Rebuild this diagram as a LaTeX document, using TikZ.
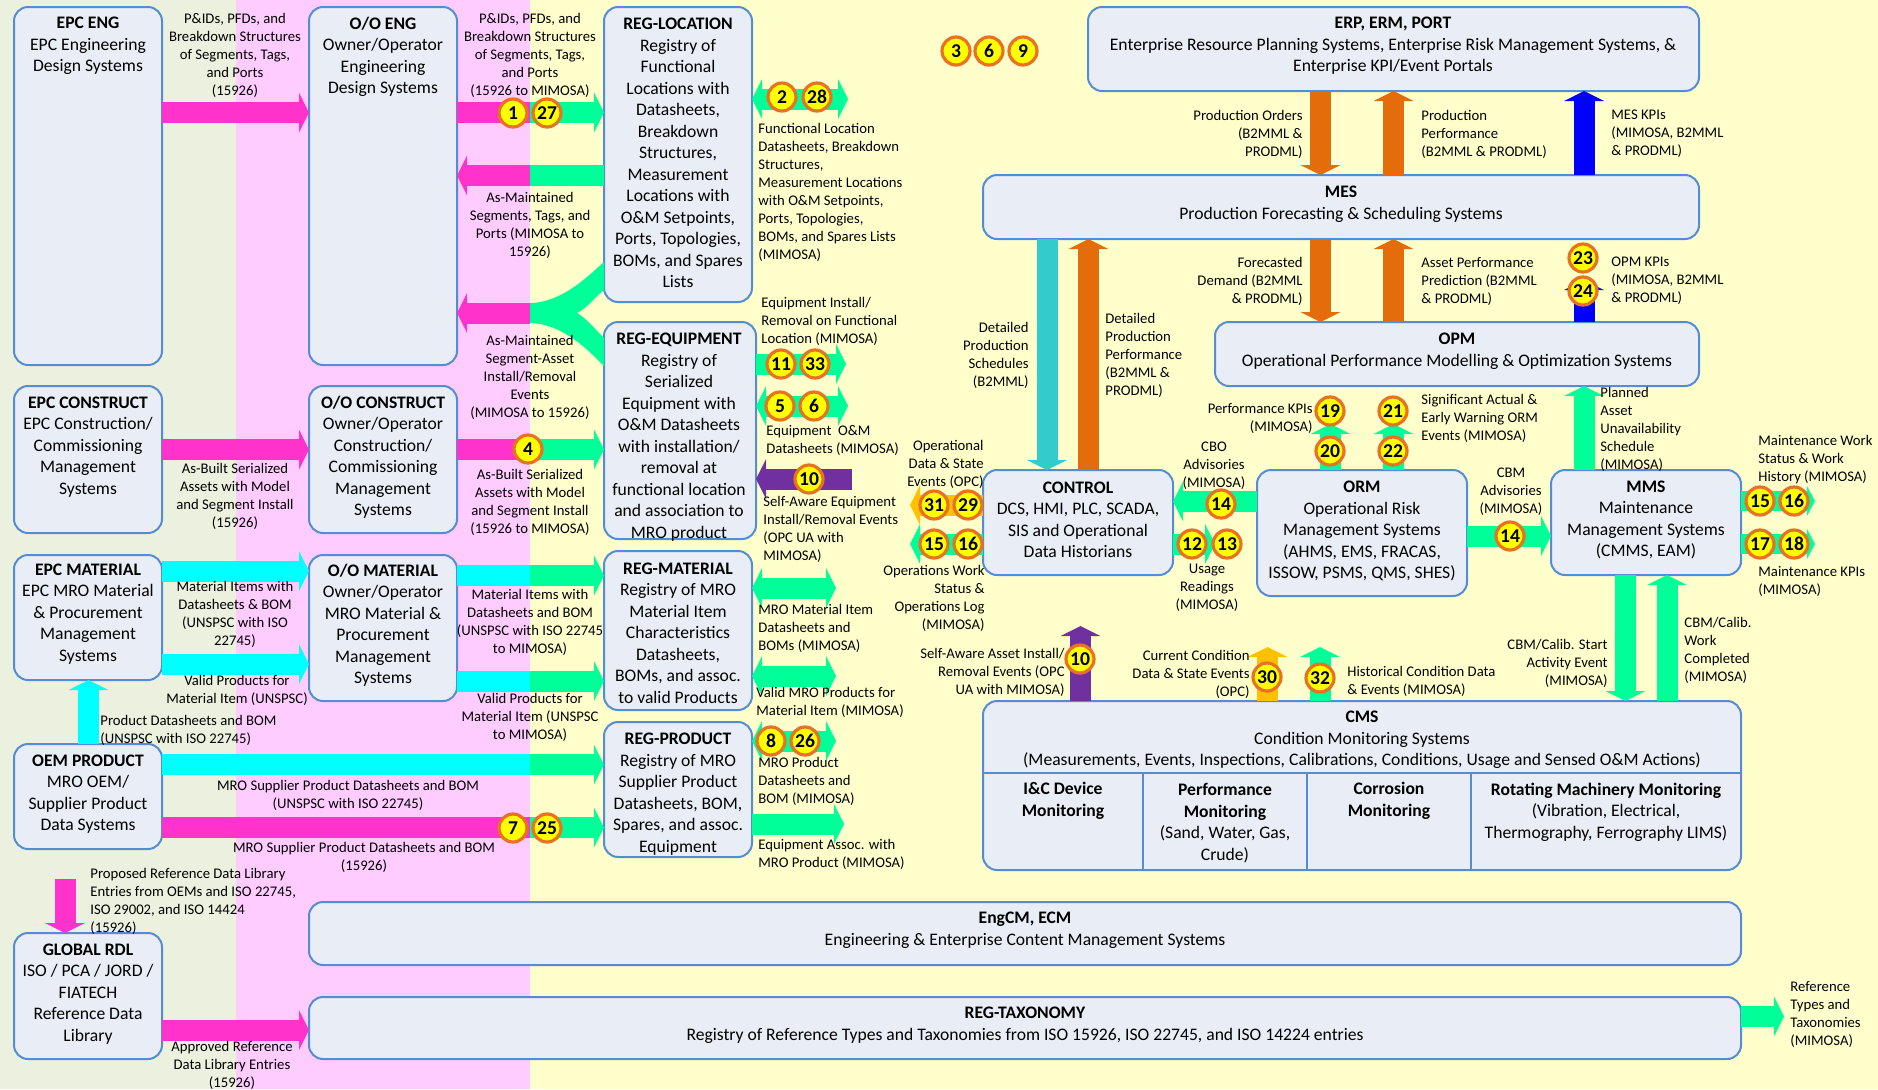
\documentclass[tikz,border=0pt]{standalone}
\usepackage{fontspec}
\setmainfont{Carlito}
\usetikzlibrary{arrows.meta,fit}

\definecolor{bggreen}{RGB}{235,241,222}
\definecolor{bgpink}{RGB}{255,204,255}
\definecolor{bgyellow}{RGB}{255,255,204}
\definecolor{boxfill}{RGB}{233,237,245}
\definecolor{boxline}{RGB}{84,141,212}
\definecolor{mag}{RGB}{255,51,204}
\definecolor{grn}{RGB}{0,255,153}
\definecolor{cyn}{RGB}{0,255,255}
\definecolor{org}{RGB}{228,108,10}
\definecolor{teal}{RGB}{51,204,204}
\definecolor{blu}{RGB}{0,0,255}
\definecolor{pur}{RGB}{112,48,160}
\definecolor{gold}{RGB}{255,192,0}
\definecolor{badgeline}{RGB}{232,113,35}
\definecolor{badgefill}{RGB}{255,255,0}

\newcommand\sysbox[5]{\node[box, fit={(#2,#3) (#4,#5)}] (#1) {};}

\begin{document}
\begin{tikzpicture}[x=0.5pt,y=-0.5pt,
  box/.style={draw=boxline, fill=boxfill, line width=1pt, rounded corners=7pt, inner sep=0pt, outer sep=0pt},
  btxt/.style={align=center, font=\fontsize{8.8pt}{10.75pt}\selectfont, inner sep=0pt},
  lbl/.style={align=center, font=\fontsize{7.35pt}{9pt}\selectfont, inner sep=0pt},
  lblL/.style={lbl, align=left, anchor=west},
  lblR/.style={lbl, align=right, anchor=east},
  badge/.style={circle, draw=badgeline, fill=badgefill, line width=1.6pt, minimum size=14pt, inner sep=0pt, font=\fontsize{9.8pt}{9.8pt}\selectfont\bfseries},
  fat/.style={line width=10.5pt},
  slim/.style={line width=10pt, >={Triangle[length=4pt,width=15pt,line width=0pt]}},
  >={Triangle[length=5pt,width=20pt,line width=0pt]},
]
\useasboundingbox (0,0) rectangle (1878,1089);

% background bands
\fill[bggreen] (0,0) rectangle (236,1089);
\fill[bgpink] (236,0) rectangle (530,1089);
\fill[bgyellow] (530,0) rectangle (1878,1089);

% systems
\sysbox{epceng}{14}{7}{162}{365}
\sysbox{ooeng}{309}{7}{457}{365}
\sysbox{regloc}{604}{7}{752}{302}
\sysbox{regequip}{604}{322}{756}{539}
\sysbox{epccon}{14}{386}{162}{533}
\sysbox{oocon}{309}{386}{457}{533}
\sysbox{epcmat}{14}{555}{162}{680}
\sysbox{oomat}{309}{555}{457}{701}
\sysbox{regmat}{604}{551}{752}{710}
\sysbox{oemprod}{14}{744}{162}{849}
\sysbox{regprod}{604}{722}{752}{857}
\sysbox{grdl}{14}{933}{162}{1059}
\sysbox{engcm}{309}{902}{1741}{965}
\sysbox{regtax}{309}{997}{1741}{1059}
\sysbox{erp}{1088}{7}{1699}{91}
\sysbox{mes}{983}{175}{1699}{239}
\sysbox{opm}{1215}{322}{1699}{386}
\sysbox{control}{983}{470}{1173}{575}
\sysbox{orm}{1257}{470}{1467}{596}
\sysbox{mms}{1551}{470}{1741}{575}
\sysbox{cms}{983}{701}{1741}{870}

% CMS table rules
\draw[boxline, line width=1pt] (cms.west |- 0,773) -- (cms.east |- 0,773);
\foreach \x in {1143,1307,1471}
  \draw[boxline, line width=1pt] (\x,773) -- (cms.south -| \x,0);

% system texts
\node[btxt] (t-epceng) at (88,46) {\textbf{EPC ENG}\\EPC Engineering\\Design Systems};
\node[btxt] (t-ooeng) at (383,57) {\textbf{O/O ENG}\\Owner/Operator\\Engineering\\Design Systems};
\node[btxt] (t-regloc) at (678,153) {\textbf{REG-LOCATION}\\Registry of\\Functional\\Locations with\\Datasheets,\\Breakdown\\Structures,\\Measurement\\Locations with\\O\&M Setpoints,\\Ports, Topologies,\\BOMs, and Spares\\Lists};
\node[btxt] (t-regequip) at (679,437) {\textbf{REG-EQUIPMENT}\\Registry of\\Serialized\\Equipment with\\O\&M Datasheets\\with installation/\\removal at\\functional location\\and association to\\MRO product};
\node[btxt] (t-epccon) at (88,447) {\textbf{EPC CONSTRUCT}\\EPC Construction/\\Commissioning\\Management\\Systems};
\node[btxt] (t-oocon) at (383,457) {\textbf{O/O CONSTRUCT}\\Owner/Operator\\Construction/\\Commissioning\\Management\\Systems};
\node[btxt] (t-epcmat) at (88,614) {\textbf{EPC MATERIAL}\\EPC MRO Material\\\& Procurement\\Management\\Systems};
\node[btxt] (t-oomat) at (383,625) {\textbf{O/O MATERIAL}\\Owner/Operator\\MRO Material \&\\Procurement\\Management\\Systems};
\node[btxt] (t-regmat) at (678,633) {\textbf{REG-MATERIAL}\\Registry of MRO\\Material Item\\Characteristics\\Datasheets,\\BOMs, and assoc.\\to valid Products};
\node[btxt] (t-oemprod) at (88,794) {\textbf{OEM PRODUCT}\\MRO OEM/\\Supplier Product\\Data Systems};
\node[btxt] (t-regprod) at (678,794) {\textbf{REG-PRODUCT}\\Registry of MRO\\Supplier Product\\Datasheets, BOM,\\Spares, and assoc.\\Equipment};
\node[btxt] (t-grdl) at (88,994) {\textbf{GLOBAL RDL}\\ISO / PCA / JORD /\\FIATECH\\Reference Data\\Library};
\node[btxt] (t-engcm) at (1025,930) {\textbf{EngCM, ECM}\\Engineering \& Enterprise Content Management Systems};
\node[btxt] (t-regtax) at (1025,1025) {\textbf{REG-TAXONOMY}\\Registry of Reference Types and Taxonomies from ISO 15926, ISO 22745, and ISO 14224 entries};
\node[btxt] (t-erp) at (1393,46) {\textbf{ERP, ERM, PORT}\\Enterprise Resource Planning Systems, Enterprise Risk Management Systems, \&\\Enterprise KPI/Event Portals};
\node[btxt] (t-mes) at (1341,204) {\textbf{MES}\\Production Forecasting \& Scheduling Systems};
\node[btxt] (t-opm) at (1457,351) {\textbf{OPM}\\Operational Performance Modelling \& Optimization Systems};
\node[btxt] (t-control) at (1078,520) {\textbf{CONTROL}\\DCS, HMI, PLC, SCADA,\\SIS and Operational\\Data Historians};
\node[btxt] (t-orm) at (1362,531) {\textbf{ORM}\\Operational Risk\\Management Systems\\(AHMS, EMS, FRACAS,\\ISSOW, PSMS, QMS, SHES)};
\node[btxt] (t-mms) at (1646,520) {\textbf{MMS}\\Maintenance\\Management Systems\\(CMMS, EAM)};
\node[btxt] (t-cms) at (1362,740) {\textbf{CMS}\\Condition Monitoring Systems\\(Measurements, Events, Inspections, Calibrations, Conditions, Usage and Sensed O\&M Actions)};
\node[btxt] (t-ic) at (1063,801) {\textbf{I\&C Device}\\\textbf{Monitoring}};
\node[btxt] (t-perf) at (1225,823) {\textbf{Performance}\\\textbf{Monitoring}\\(Sand, Water, Gas,\\Crude)};
\node[btxt] (t-corr) at (1389,801) {\textbf{Corrosion}\\\textbf{Monitoring}};
\node[btxt] (t-rot) at (1606,812) {\textbf{Rotating Machinery Monitoring}\\(Vibration, Electrical,\\Thermography, Ferrography LIMS)};

% ---------- left-hand flows ----------
\draw[fat,mag,->] (epceng.east |- 0,112.5) -- (ooeng.west |- 0,112.5);
\draw[fat,mag] (ooeng.east |- 0,112.5) -- (531,112.5);
\draw[fat,grn,->] (530,112.5) -- (regloc.west |- 0,112.5);
\draw[fat,grn] (regloc.west |- 0,175.5) -- (529,175.5);
\draw[fat,mag,->] (530,175.5) -- (ooeng.east |- 0,175.5);
% merging feed from both registries
\fill[grn] (529,303) .. controls (562,303) and (588,276) .. (604,262) -- (604,290)
  .. controls (594,298) and (586,309) .. (577,313)
  .. controls (586,318) and (594,328) .. (604,338) -- (604,366)
  .. controls (588,350) and (562,323) .. (529,323) -- cycle;
\draw[fat,mag,->] (530,313) -- (ooeng.east |- 0,313);

\draw[fat,mag,->] (epccon.east |- 0,449.5) -- (oocon.west |- 0,449.5);
\draw[fat,mag] (oocon.east |- 0,449.5) -- (531,449.5);
\draw[fat,grn,->] (530,449.5) -- (regequip.west |- 0,449.5);

\draw[fat,cyn,->] (epcmat.east |- 0,571) -- (oomat.west |- 0,571);
\draw[fat,cyn,->] (epcmat.east |- 0,664) -- (oomat.west |- 0,664);
\draw[fat,cyn] (oomat.east |- 0,575.5) -- (531,575.5);
\draw[fat,grn,->] (530,575.5) -- (regmat.west |- 0,575.5);
\draw[fat,cyn] (oomat.east |- 0,681) -- (531,681);
\draw[fat,grn,->] (530,681) -- (regmat.west |- 0,681);

\draw[fat,cyn,->] (oemprod.north -| 88.5,0) -- (epcmat.south -| 88.5,0);
\draw[fat,cyn] (oemprod.east |- 0,764.5) -- (531,764.5);
\draw[fat,grn,->] (530,764.5) -- (regprod.west |- 0,764.5);
\draw[fat,mag] (oemprod.east |- 0,827.5) -- (531,827.5);
\draw[fat,grn,->] (530,827.5) -- (regprod.west |- 0,827.5);
\coordinate (rdlsrc) at (65,879);
\draw[fat,mag,->] (rdlsrc) -- (grdl.north -| 65,0);
\draw[fat,mag,->] (grdl.east |- 0,1030) -- (regtax.west |- 0,1030);

% ---------- registry outputs ----------
\draw[fat,grn,<->] (regloc.east |- 0,99) -- (848,99);
\draw[fat,grn,->] (regequip.east |- 0,364) -- (846,364);
\draw[fat,grn,<->] (regequip.east |- 0,406) -- (848,406);
\coordinate (saeq) at (852,479);
\draw[fat,pur,->] (saeq) -- (regequip.east |- 0,479);
\draw[fat,grn,<->] (regmat.east |- 0,588) -- (836,588);
\draw[fat,grn,<->] (regmat.east |- 0,676) -- (836,676);
\draw[fat,grn,<->] (regprod.east |- 0,741) -- (836,741);
\draw[fat,grn,->] (regprod.east |- 0,824) -- (844,824);

% ---------- enterprise / MES / OPM ----------
\draw[fat,org,->] (erp.south -| 1320.5,0) -- (mes.north -| 1320.5,0);
\draw[fat,org,->] (mes.north -| 1393.5,0) -- (erp.south -| 1393.5,0);
\draw[fat,blu,->] (mes.north -| 1584,0) -- (erp.south -| 1584,0);
\draw[fat,org,->] (mes.south -| 1320.5,0) -- (opm.north -| 1320.5,0);
\draw[fat,org,->] (opm.north -| 1393.5,0) -- (mes.south -| 1393.5,0);
\draw[fat,blu,->] (opm.north -| 1584,0) -- (1584,280);
\draw[fat,teal,->] (mes.south -| 1047,0) -- (control.north -| 1047,0);
\draw[fat,org,->] (control.north -| 1088.5,0) -- (mes.south -| 1088.5,0);

% ---------- control / ORM / MMS ----------
\draw[fat,gold,->] (control.west |- 0,505) -- (910,505);
\draw[fat,grn,->] (control.west |- 0,544) -- (910,544);
\draw[fat,grn,->] (orm.west |- 0,501.5) -- (control.east |- 0,501.5);
\draw[fat,grn,->] (control.east |- 0,544) -- (1215,544);
\draw[fat,grn,->] (orm.north -| 1330.5,0) -- (1330.5,424);
\draw[fat,grn,->] (orm.north -| 1393.5,0) -- (1393.5,424);
\draw[fat,grn,->] (orm.east |- 0,536) -- (mms.west |- 0,536);
\draw[fat,grn,->] (mms.north -| 1584,0) -- (opm.south -| 1584,0);
\draw[slim,grn,->] (mms.east |- 0,501) -- (1815,501);
\draw[slim,grn,->] (mms.east |- 0,544) -- (1815,544);
\draw[fat,grn,->] (mms.south -| 1625.5,0) -- (cms.north -| 1625.5,0);
\draw[fat,grn,->] (cms.north -| 1667,0) -- (mms.south -| 1667,0);

% ---------- condition monitoring ----------
\draw[fat,pur,->] (cms.north -| 1080.5,0) -- (1080.5,626);
\draw[fat,gold,->] (cms.north -| 1267.5,0) -- (1267.5,647);
\draw[fat,grn,->] (cms.north -| 1320,0) -- (1320,647);
\draw[fat,grn,->] (regtax.east |- 0,1016.5) -- (1784,1016.5);

% ---------- numbered flow markers ----------
\node[badge] (b1) at (513,113) {1};
\node[badge] (b27) at (547,113) {27};
\node[badge] (b2) at (782,97) {2};
\node[badge] (b28) at (817,97) {28};
\node[badge] (b3) at (956,51) {3};
\node[badge] (b6a) at (989,51) {6};
\node[badge] (b9) at (1023,51) {9};
\node[badge] (b4) at (528,449) {4};
\node[badge] (b11) at (781,364) {11};
\node[badge] (b33) at (815,364) {33};
\node[badge] (b5) at (780,406) {5};
\node[badge] (b6b) at (814,406) {6};
\node[badge] (b10a) at (809,479) {10};
\node[badge] (b31) at (934,505) {31};
\node[badge] (b29) at (968,505) {29};
\node[badge] (b15a) at (934,544) {15};
\node[badge] (b16a) at (968,544) {16};
\node[badge] (b14a) at (1221,504) {14};
\node[badge] (b12) at (1192,544) {12};
\node[badge] (b13) at (1227,544) {13};
\node[badge] (b19) at (1330,411) {19};
\node[badge] (b20) at (1330,451) {20};
\node[badge] (b21) at (1393,411) {21};
\node[badge] (b22) at (1393,451) {22};
\node[badge] (b23) at (1583,258) {23};
\node[badge] (b24) at (1583,291) {24};
\node[badge] (b14b) at (1510,536) {14};
\node[badge] (b15b) at (1760,501) {15};
\node[badge] (b16b) at (1794,501) {16};
\node[badge] (b17) at (1760,544) {17};
\node[badge] (b18) at (1794,544) {18};
\node[badge] (b10b) at (1080,659) {10};
\node[badge] (b30) at (1267,677) {30};
\node[badge] (b32) at (1320,678) {32};
\node[badge] (b8) at (771,741) {8};
\node[badge] (b26) at (805,741) {26};
\node[badge] (b7) at (513,828) {7};
\node[badge] (b25) at (547,828) {25};

% ---------- flow labels ----------
\node[lbl] (l1) at (235,55) {P\&IDs, PFDs, and\\Breakdown Structures\\of Segments, Tags,\\and Ports\\(15926)};
\node[lbl] (l2) at (530,55) {P\&IDs, PFDs, and\\Breakdown Structures\\of Segments, Tags,\\and Ports\\(15926 to MIMOSA)};
\node[lbl] (l3) at (530,225) {As-Maintained\\Segments, Tags, and\\Ports (MIMOSA to\\15926)};
\node[lbl] (l4) at (530,377) {As-Maintained\\Segment-Asset\\Install/Removal\\Events\\(MIMOSA to 15926)};
\node[lbl] (l5) at (530,502) {As-Built Serialized\\Assets with Model\\and Segment Install\\(15926 to MIMOSA)};
\node[lbl] (l6) at (235,496) {As-Built Serialized\\Assets with Model\\and Segment Install\\(15926)};
\node[lbl] (l7) at (235,614) {Material Items with\\Datasheets \& BOM\\(UNSPSC with ISO\\22745)};
\node[lbl] (l8) at (237,690) {Valid Products for\\Material Item (UNSPSC)};
\node[lbl] (l9) at (530,622) {Material Items with\\Datasheets and BOM\\(UNSPSC with ISO 22745\\to MIMOSA)};
\node[lbl] (l10) at (530,717) {Valid Products for\\Material Item (UNSPSC\\to MIMOSA)};
\node[lblL] (l11) at (100,730) {Product Datasheets and BOM\\(UNSPSC with ISO 22745)};
\node[lbl] (l12) at (348,795) {MRO Supplier Product Datasheets and BOM\\(UNSPSC with ISO 22745)};
\node[lbl] (l13) at (364,857) {MRO Supplier Product Datasheets and BOM\\(15926)};
\node[lblL] (l14) at (90,901) {Proposed Reference Data Library\\Entries from OEMs and ISO 22745,\\ISO 29002, and ISO 14424\\(15926)};
\node[lbl] (l15) at (232,1065) {Approved Reference\\Data Library Entries\\(15926)};
\node[lblL] (l16) at (758,192) {Functional Location\\Datasheets, Breakdown\\Structures,\\Measurement Locations\\with O\&M Setpoints,\\Ports, Topologies,\\BOMs, and Spares Lists\\(MIMOSA)};
\node[lblL] (l17) at (761,321) {Equipment Install/\\Removal on Functional\\Location (MIMOSA)};
\node[lblL] (l18) at (766,440) {Equipment\ \ O\&M\\Datasheets (MIMOSA)};
\node[lblL] (l19) at (763,529) {Self-Aware Equipment\\Install/Removal Events\\(OPC UA with\\MIMOSA)};
\node[lblL] (l20) at (758,628) {MRO Material Item\\Datasheets and\\BOMs (MIMOSA)};
\node[lblL] (l21) at (756,702) {Valid MRO Products for\\Material Item (MIMOSA)};
\node[lblL] (l22) at (758,781) {MRO Product\\Datasheets and\\BOM (MIMOSA)};
\node[lblL] (l23) at (758,854) {Equipment Assoc. with\\MRO Product (MIMOSA)};
\node[lblR] (l24) at (1303,134) {Production Orders\\(B2MML \&\\PRODML)};
\node[lblL] (l25) at (1421,134) {Production\\Performance\\(B2MML \& PRODML)};
\node[lblL] (l26) at (1611,134) {MES KPIs\\(MIMOSA, B2MML\\\& PRODML)};
\node[lblR] (l27) at (1303,281) {Forecasted\\Demand (B2MML\\\& PRODML)};
\node[lblL] (l28) at (1421,281) {Asset Performance\\Prediction (B2MML\\\& PRODML)};
\node[lblL] (l29) at (1611,281) {OPM KPIs\\(MIMOSA, B2MML\\\& PRODML)};
\node[lblR] (l30) at (1029,355) {Detailed\\Production\\Schedules\\(B2MML)};
\node[lblL] (l31) at (1105,355) {Detailed\\Production\\Performance\\(B2MML \&\\PRODML)};
\node[lbl] (l32) at (1214,466) {CBO\\Advisories\\(MIMOSA)};
\node[lbl] (l33) at (1207,588) {Usage\\Readings\\(MIMOSA)};
\node[lblR] (l34) at (1313,418) {Performance KPIs\\(MIMOSA)};
\node[lblL] (l35) at (1421,418) {Significant Actual \&\\Early Warning ORM\\Events (MIMOSA)};
\node[lblL] (l36) at (1600,429) {Planned\\Asset\\Unavailability\\Schedule\\(MIMOSA)};
\node[lbl] (l37) at (1511,492) {CBM\\Advisories\\(MIMOSA)};
\node[lblL] (l38) at (1758,460) {Maintenance Work\\Status \& Work\\History (MIMOSA)};
\node[lblL] (l39) at (1758,581) {Maintenance KPIs\\(MIMOSA)};
\node[lblR] (l40) at (1608,663) {CBM/Calib. Start\\Activity Event\\(MIMOSA)};
\node[lblL] (l41) at (1684,650) {CBM/Calib.\\Work\\Completed\\(MIMOSA)};
\node[lblR] (l42) at (1065,672) {Self-Aware Asset Install/\\Removal Events (OPC\\UA with MIMOSA)};
\node[lblR] (l43) at (1250,674) {Current Condition\\Data \& State Events\\(OPC)};
\node[lblL] (l44) at (1347,681) {Historical Condition Data\\\& Events (MIMOSA)};
\node[lblR] (l45) at (984,464) {Operational\\Data \& State\\Events (OPC)};
\node[lblR] (l46) at (985,598) {Operations Work\\Status \&\\Operations Log\\(MIMOSA)};
\node[lblL] (l47) at (1790,1014) {Reference\\Types and\\Taxonomies\\(MIMOSA)};
\end{tikzpicture}
\end{document}
